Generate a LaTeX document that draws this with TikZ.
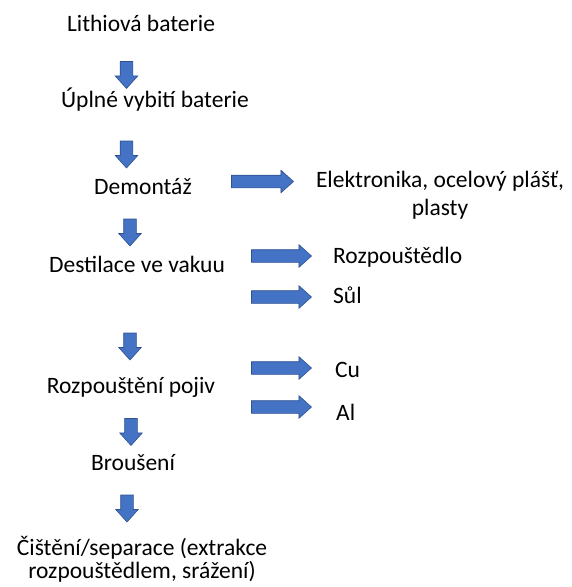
\documentclass[tikz,border=0pt]{standalone}
\usepackage{fontspec}
\setmainfont{Carlito}
\usetikzlibrary{shapes.arrows}
\definecolor{blockfill}{HTML}{4472C4}
\definecolor{blockline}{HTML}{2F528F}
\tikzset{every node/.style={font=\fontsize{23.5}{28}\selectfont,inner sep=0pt},
  blockarrow/.style={single arrow,fill=blockfill,draw=blockline,line width=.6pt,
    inner xsep=0pt,inner ysep=6pt,single arrow head extend=5pt,single arrow tip angle=84},
  downarrow/.style={blockarrow,rotate=-90,minimum height=27pt},
  sidearrow/.style={blockarrow,minimum height=60pt},
  stage/.style={anchor=base,align=center},
  product/.style={anchor=base west}}

\begin{document}
\begin{tikzpicture}[x=1pt,y=-1pt]
\useasboundingbox (0,0) rectangle (571,587);
\node[stage] (lith) at (141,31) {Lithiová baterie};
\node[stage] (vybiti) at (155,107) {Úplné vybití baterie};
\node[stage] (demontaz) at (143,194) {Demontáž};
\node[stage] (destil) at (137,272) {Destilace ve vakuu};
\node[stage] (pojiv) at (131,393) {Rozpouštění pojiv};
\node[stage] (brouseni) at (133,470) {Broušení};
\node[stage] (cisteni) at (142,578) {Čištění/separace (extrakce\\[-5pt]rozpouštědlem, srážení)};
\node[stage] (elektr) at (440,215) {Elektronika, ocelový plášť,\\plasty};
\node[product] (rozp) at (333,263) {Rozpouštědlo};
\node[product] (sul) at (333,303) {Sůl};
\node[product] (cu) at (335,377) {Cu};
\node[product] (al) at (336,420) {Al};
\node[downarrow] (d1) at (126.5,71.5) {};
\node[downarrow] (d2) at (126.5,151) {};
\node[downarrow] (d3) at (130,229) {};
\node[downarrow] (d4) at (130,343) {};
\node[downarrow] (d5) at (131,428.5) {};
\node[downarrow] (d6) at (127,505) {};
\node[sidearrow,minimum height=62pt] (s1) at (259,181.5) {};
\node[sidearrow] (s2) at (278,256) {};
\node[sidearrow] (s3) at (278,297) {};
\node[sidearrow] (s4) at (278,368) {};
\node[sidearrow] (s5) at (278,407) {};
\end{tikzpicture}
\end{document}
